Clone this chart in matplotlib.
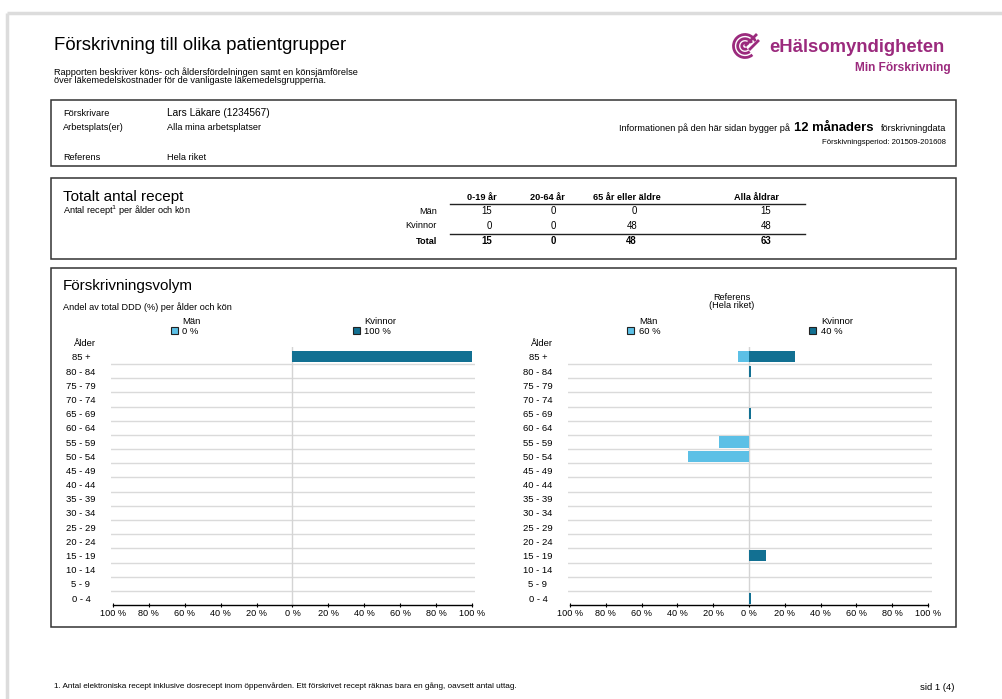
import matplotlib
matplotlib.use("Agg")
import matplotlib.pyplot as plt
from matplotlib.patches import Rectangle, Arc
from matplotlib.ticker import FuncFormatter

plt.rcParams['font.family'] = ['Liberation Sans', 'DejaVu Sans']

# ---- data ----
age_groups = ['0 - 4', '5 - 9', '10 - 14', '15 - 19', '20 - 24', '25 - 29',
              '30 - 34', '35 - 39', '40 - 44', '45 - 49', '50 - 54', '55 - 59',
              '60 - 64', '65 - 69', '70 - 74', '75 - 79', '80 - 84', '85 +']
# own prescriptions, % of total DDD
user_men = [0, 0, 0, 0, 0, 0, 0, 0, 0, 0, 0, 0, 0, 0, 0, 0, 0, 0]
user_women = [0, 0, 0, 0, 0, 0, 0, 0, 0, 0, 0, 0, 0, 0, 0, 0, 0, 100]
# reference (Hela riket)
ref_men = [0, 0, 0, 0, 0, 0, 0, 0, 0, 0, 34, 16.8, 0, 0, 0, 0, 0, 6.1]
ref_women = [1, 0, 0, 9.5, 0, 0, 0, 0, 0, 0, 0, 0, 0, 1, 0, 0, 1, 25.7]

user_share = [0, 100]   # Män, Kvinnor
ref_share = [60, 40]

tbl_cols = ['0-19 år', '20-64 år', '65 år eller äldre', 'Alla åldrar']
tbl_rows = ['Män', 'Kvinnor', 'Total']
tbl_man = [15, 0, 0, 15]
tbl_kvinnor = [0, 0, 48, 48]
tbl_total = [15, 0, 48, 63]

LIGHT = '#5cc0e6'
DARK = '#127092'
PURPLE = '#9b2a7d'
GRID = '#dadada'
SMALL = 6.6

W, H = 1003, 699
fig = plt.figure(figsize=(W / 100, H / 100), dpi=100)

# background axes in pixel coordinates (y down)
bg = fig.add_axes([0, 0, 1, 1])
bg.set_xlim(0, W)
bg.set_ylim(H, 0)
bg.axis('off')


def txt(x, y, s, size, **kw):
    kw.setdefault('va', 'center')
    return bg.text(x, y, s, fontsize=size, **kw)


# page edge
bg.plot([7, W], [13, 13], color='#dcdcdc', lw=2.5, solid_capstyle='butt')
bg.plot([7, 7], [13, H], color='#dcdcdc', lw=2.5, solid_capstyle='butt')

# header
txt(54, 46, 'Förskrivning till olika patientgrupper', 13.4)
txt(54, 72, 'Rapporten beskriver köns- och åldersfördelningen samt en könsjämförelse', SMALL)
txt(54, 80.5, 'över läkemedelskostnader för de vanligaste läkemedelsgrupperna.', SMALL)

# logo
cx, cy = 745, 46
for r in [11.5, 7.3, 3.2]:
    bg.add_patch(Arc((cx, cy), 2 * r, 2 * r, theta1=50, theta2=335,
                     color=PURPLE, lw=2.0))
bg.plot([cx + 1, cx + 11], [cy - 1, cy - 11], color=PURPLE, lw=2.0)
bg.plot([cx + 5, cx + 13], [cy + 3, cy - 5], color=PURPLE, lw=2.0)
txt(769, 48, 'eHälsomyndigheten', 13.3, color=PURPLE, fontweight='bold')
txt(951, 68, 'Min Förskrivning', 8.6, color=PURPLE, fontweight='bold', ha='right')

# boxes
for (y0, y1) in [(100, 166), (178, 259), (268, 627)]:
    bg.add_patch(Rectangle((51, y0), 905, y1 - y0, fill=False,
                           ec='#333333', lw=1.1))

# info box
txt(63, 114, 'Förskrivare', SMALL)
txt(63, 128, 'Arbetsplats(er)', SMALL)
txt(63, 157, 'Referens', SMALL)
txt(167, 113, 'Lars Läkare (1234567)', 7.3)
txt(167, 128, 'Alla mina arbetsplatser', SMALL)
txt(167, 157, 'Hela riket', SMALL)

renderer = fig.canvas.get_renderer()
t1 = txt(946, 131, 'förskrivningdata', SMALL, ha='right', va='baseline')
x_end = t1.get_window_extent(renderer).x0 - 7
t2 = txt(x_end, 131, '12 månaders', 9.4, ha='right', va='baseline', fontweight='bold')
x_end = t2.get_window_extent(renderer).x0 - 4
txt(x_end, 131, 'Informationen på den här sidan bygger på', SMALL, ha='right', va='baseline')
txt(946, 142, 'Förskivningsperiod: 201509-201608', 5.6, ha='right')

# table box
txt(63, 197, 'Totalt antal recept', 11.0)
txt(63, 211, 'Antal recept$^{1}$ per ålder och kön', SMALL)
col_head_x = [482, 547, 627, 757]
col_val_x = [492, 556, 637, 771]
row_y = [211, 226, 241]
for hx, name in zip(col_head_x, tbl_cols):
    txt(hx, 198, name, 6.6, ha='center', fontweight='bold')
bg.plot([450, 805], [203.5, 203.5], color='#222222', lw=1.0)
bg.plot([450, 805], [234, 234], color='#222222', lw=1.0)
for yy, name, vals in zip(row_y, tbl_rows, [tbl_man, tbl_kvinnor, tbl_total]):
    bold = 'bold' if name == 'Total' else 'normal'
    txt(437, yy, name, 6.6, ha='right', fontweight=bold)
    for vx, v in zip(col_val_x, vals):
        txt(vx, yy, str(v), 6.9, ha='right', fontweight=bold)

# chart box
txt(63, 286, 'Förskrivningsvolym', 11.0)
txt(63, 307, 'Andel av total DDD (%) per ålder och kön', SMALL)
txt(732, 297, 'Referens', SMALL, ha='center')
txt(732, 306, '(Hela riket)', SMALL, ha='center')


def pyramid(grid_l, grid_r, tick_l, tick_r, men, women, shares):
    top, bottom = 347, 605
    ax = fig.add_axes([grid_l / W, 1 - bottom / H, (grid_r - grid_l) / W, (bottom - top) / H])
    ppu = (tick_r - tick_l) / 200
    ax.set_xlim(-100 - (tick_l - grid_l) / ppu, 100 + (grid_r - tick_r) / ppu)
    ax.set_ylim(-0.49, 17.7)
    ax.patch.set_alpha(0)
    ypos = list(range(len(age_groups)))
    ax.barh(ypos, [-m for m in men], height=0.78, color=LIGHT, zorder=3)
    ax.barh(ypos, women, height=0.78, color=DARK, zorder=3)
    for k in range(len(age_groups) - 1):
        ax.axhline(k + 0.5, color=GRID, lw=1.0, zorder=1)
    ax.axvline(0, color='#d4d4d4', lw=1.0, zorder=2)
    for s in ['top', 'left', 'right']:
        ax.spines[s].set_visible(False)
    ax.spines['bottom'].set_bounds(-100, 100)
    ax.spines['bottom'].set_linewidth(1.0)
    ax.set_xticks(range(-100, 101, 20))
    ax.xaxis.set_major_formatter(FuncFormatter(lambda v, p: f"{abs(int(round(v)))} %"))
    ax.tick_params(axis='x', labelsize=6.6, pad=1.5, length=3, direction='inout', width=0.8)
    ax.set_yticks(ypos)
    ax.set_yticklabels(age_groups, fontsize=6.8)
    ax.tick_params(axis='y', length=0, pad=21.6)
    for lab in ax.get_yticklabels():
        lab.set_horizontalalignment('center')
    # legend / label texts
    zero = tick_l + 100 * ppu
    txt(grid_l - 27, 344, 'Ålder', 6.8, ha='center')
    for name, share, col, dx in [('Män', shares[0], LIGHT, -110), ('Kvinnor', shares[1], DARK, 72)]:
        bg.add_patch(Rectangle((zero + dx - 11.5, 327), 7, 7, fc=col, ec='#222222', lw=0.8))
        txt(zero + dx, 321, name, 6.8)
        txt(zero + dx, 331, f"{share} %", 6.8)
    return ax


pyramid(111, 475, 113, 472, user_men, user_women, user_share)
pyramid(568, 932, 570, 928, ref_men, ref_women, ref_share)

# footer
txt(54, 686, '1. Antal elektroniska recept inklusive dosrecept inom öppenvården. '
             'Ett förskrivet recept räknas bara en gång, oavsett antal uttag.', 5.9)
txt(955, 688, 'sid 1 (4)', 6.8, ha='right')

fig.savefig('out.png', dpi=100)
